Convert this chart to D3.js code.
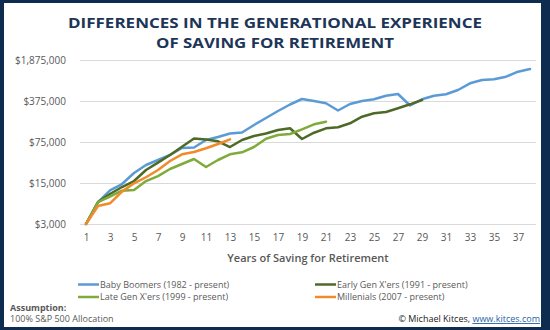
<!DOCTYPE html>
<html>
<head>
<meta charset="utf-8">
<script src="https://cdn.jsdelivr.net/npm/d3@7"></script>
<style>
  html, body { margin: 0; padding: 0; background: #ffffff; }
  svg { display: block; }
</style>
</head>
<body>
<svg id="chart" width="550" height="330"></svg>
<script>
// Years of saving (category axis) and the labels shown on it
const years = d3.range(1, 39);
const xTickLabels = d3.range(1, 38, 2);
const yTickValues = [3000, 15000, 75000, 375000, 1875000];

// Portfolio value by year of saving, one array per generation
const babyBoomers = [3000, 7100, 11200, 14400, 22200, 30400, 37000, 45000, 59300, 60400,
  81100, 91300, 104700, 108900, 146100, 192400, 253300, 326900, 405600, 374900,
  342600, 258300, 333300, 375000, 400800, 461700, 493600, 314400, 400800, 461700,
  487800, 577500, 751200, 855000, 879000, 973200, 1184700, 1317300];
const earlyGenX = [3000, 7100, 9740, 12800, 16200, 25000, 33300, 45000, 62400, 86000,
  82700, 77100, 61600, 81100, 94900, 104700, 120100, 128400, 84400, 108000,
  128400, 133600, 156200, 202500, 231400, 243500, 281600, 329400, 390000];
const lateGenX = [3000, 7100, 8830, 11100, 11400, 16200, 19700, 26000, 31600, 38500,
  28100, 37000, 46300, 50100, 61600, 85400, 98700, 102700, 123500, 150300, 166400];
const millennials = [3000, 6080, 6760, 10700, 14800, 18800, 25000, 35600, 46300, 50700,
  58600, 69300, 83400];

const seriesNames = ["Baby Boomers (1982 - present)", "Early Gen X'ers (1991 - present)",
  "Late Gen X'ers (1999 - present)", "Millenials (2007 - present)"];
const seriesValues = [babyBoomers, earlyGenX, lateGenX, millennials];
const seriesColors = ["#5b9bd5", "#4d6a26", "#7eab3a", "#f08a2a"];

const svg = d3.select("#chart");
const W = 550, H = 330;
const font = "'Open Sans', 'Noto Sans', sans-serif";
const grey = "#595959";

// navy frame with white card
svg.append("rect").attr("width", W).attr("height", H).attr("fill", "#0e2c50");
svg.append("rect").attr("x", 4).attr("y", 3).attr("width", 537).attr("height", 324).attr("fill", "#ffffff");

// title
const titleLines = ["DIFFERENCES IN THE GENERATIONAL EXPERIENCE", "OF SAVING FOR RETIREMENT"];
const titleWidths = [414, 238];
svg.selectAll("text.title").data(titleLines).enter().append("text")
  .attr("class", "title")
  .attr("x", 275).attr("y", (d, i) => 28 + i * 20)
  .attr("text-anchor", "middle")
  .attr("textLength", (d, i) => titleWidths[i])
  .attr("lengthAdjust", "spacingAndGlyphs")
  .attr("font-family", font).attr("font-weight", 700).attr("font-size", 14.5)
  .attr("fill", "#1d3658")
  .text(d => d);

// scales
const x = d3.scalePoint().domain(years).range([80, 536]).padding(0.5);
const y = d3.scaleLog().base(5).domain([3000, 1875000]).range([224, 60]);

// horizontal gridlines
const yAxis = d3.axisLeft(y).tickValues(yTickValues)
  .tickSize(-(536 - 80)).tickPadding(14)
  .tickFormat(d => "$" + d3.format(",")(d));
const gy = svg.append("g").attr("transform", "translate(80,0)").call(yAxis);
gy.select(".domain").remove();
gy.selectAll(".tick line").attr("stroke", "#d9d9d9").attr("stroke-width", 1);
gy.selectAll(".tick text").attr("font-family", font).attr("font-size", 10)
  .attr("fill", grey);

// category axis labels
const xAxis = d3.axisBottom(x).tickValues(xTickLabels).tickSize(0).tickPadding(10);
const gx = svg.append("g").attr("transform", "translate(0,224)").call(xAxis);
gx.select(".domain").remove();
gx.selectAll(".tick text").attr("font-family", font).attr("font-size", 10)
  .attr("fill", grey);

svg.append("text").attr("x", 308).attr("y", 262).attr("text-anchor", "middle")
  .attr("font-family", font).attr("font-size", 11).attr("font-weight", 600)
  .attr("fill", grey).text("Years of Saving for Retirement");

// series lines
const line = d3.line().x((d, i) => x(years[i])).y(d => y(d));
svg.append("g").selectAll("path").data(seriesValues).enter().append("path")
  .attr("d", d => line(d))
  .attr("fill", "none")
  .attr("stroke", (d, i) => seriesColors[i])
  .attr("stroke-width", 2.5)
  .attr("stroke-linejoin", "round")
  .attr("stroke-linecap", "round");

// legend
const legendPos = [[78, 284.5], [315, 284.5], [78, 297], [315, 297]];
const lg = svg.append("g").selectAll("g").data(seriesNames).enter().append("g")
  .attr("transform", (d, i) => `translate(${legendPos[i][0]},${legendPos[i][1]})`);
lg.append("line").attr("x1", 0).attr("x2", 21).attr("y1", 0).attr("y2", 0)
  .attr("stroke", (d, i) => seriesColors[i]).attr("stroke-width", 2.5);
lg.append("text").attr("x", 22).attr("y", 3.4)
  .attr("font-family", font).attr("font-size", 9).attr("fill", grey)
  .text(d => d);

// footer
svg.append("text").attr("x", 10).attr("y", 310.5)
  .attr("font-family", font).attr("font-size", 9).attr("font-weight", 700)
  .attr("fill", grey).text("Assumption:");
svg.append("text").attr("x", 10).attr("y", 322)
  .attr("font-family", font).attr("font-size", 9)
  .attr("fill", grey).text("100% S&P 500 Allocation");
const credit = svg.append("text").attr("x", 540).attr("y", 322).attr("text-anchor", "end")
  .attr("font-family", font).attr("font-size", 9).attr("fill", "#222222");
credit.append("tspan").text("\u00A9 Michael Kitces, ");
credit.append("tspan").attr("fill", "#1f5fa8").attr("text-decoration", "underline").text("www.kitces.com");
</script>
</body>
</html>
